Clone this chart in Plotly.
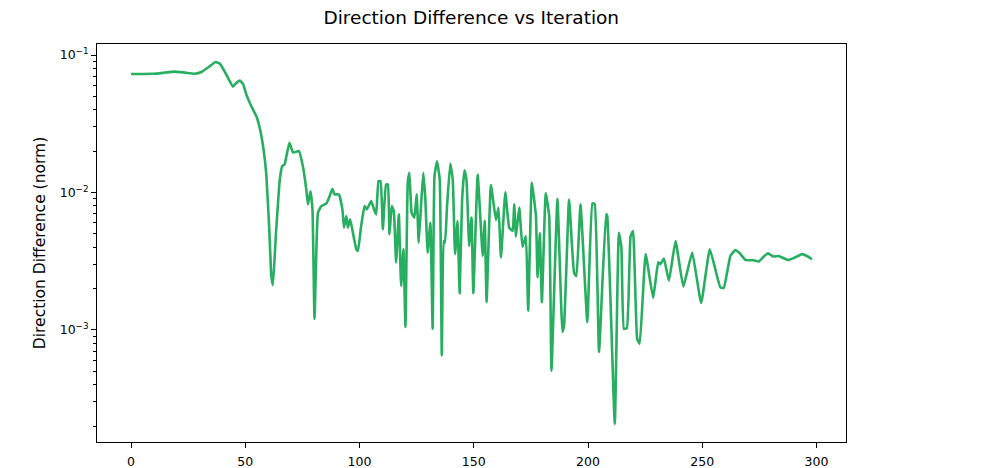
import plotly.graph_objects as go

iterations = [0, 5, 10, 15, 19, 23, 28, 31, 34, 37, 39, 42, 44.6, 46, 47.6, 49, 50.5, 52.7, 54.9,
              56.5, 58, 59.2, 60.5, 61.4, 62.1, 63.4, 65.1, 66.2, 67.2, 69.3, 70.9, 73.5, 75.2,
              76.7, 77.4, 78.5, 79.4, 80.3, 81.8, 83.3, 85.5, 86.9, 88.1, 89.1, 91.0, 92.5, 93.2,
              94.2, 94.9, 95.9, 97.1, 98.6, 99.3, 100.7, 102.2, 103.2, 105.1, 106.6, 107.3, 108.3,
              109.2, 110.2, 111.6, 112.4, 113.1, 114.1, 115.0, 116.0, 117.2, 118.2, 119.2, 120.1,
              121.1, 121.8, 122.8, 124.0, 125.0, 125.9, 126.9, 127.9, 128.8, 129.8, 131.0, 132.0,
              132.8, 133.9, 135.1, 136.0, 136.8, 137.4, 138.3, 139.7, 140.8, 141.8, 142.9, 143.8,
              144.9, 145.9, 146.8, 148.0, 149.0, 149.8, 151.7, 153.9, 154.8, 155.6, 157.5, 159.7,
              160.8, 161.9, 163.8, 165.5, 167.0, 167.7, 168.4, 169.9, 171.3, 172.8, 173.8, 175.4,
              177.2, 177.9, 178.9, 179.8, 181.5, 183.0, 184.0, 186.6, 188.8, 189.5, 191.7, 193.9,
              194.9, 196.7, 199.7, 201.9, 202.9, 204.8, 207.9, 208.4, 211.7, 213.5, 214.6, 215.7,
              217.0, 218.6, 219.7, 221.5, 222.6, 225.2, 228.5, 230.7, 231.7, 233.2, 235.4, 238.3,
              241.7, 245.6, 249.5, 253.3, 257.9, 259.4, 262.3, 264.5, 266.4, 268.9, 272.5, 274.7,
              276.9, 278.7, 281.2, 283.4, 287.5, 290.0, 293.6, 295.8, 298]

direction_diff = [0.0728, 0.0728, 0.0730, 0.0745, 0.0757, 0.0747, 0.0731, 0.0755, 0.0818, 0.0889,
                  0.0861, 0.0705, 0.0589, 0.0626, 0.0651, 0.0616, 0.0513, 0.0422, 0.0357,
                  0.0286, 0.0205, 0.0135, 0.0054, 0.00246, 0.00212, 0.00497, 0.0124, 0.0156,
                  0.0160, 0.0230, 0.0195, 0.0200, 0.0155,
                  0.0105, 0.00819, 0.0102, 0.00753, 0.00120, 0.00713, 0.00796, 0.00832, 0.00940,
                  0.01063, 0.00968, 0.00968, 0.00753, 0.00555,
                  0.00674, 0.00555, 0.00637, 0.00510, 0.00386, 0.00376, 0.00570, 0.00796, 0.00753,
                  0.00865, 0.00732, 0.00693, 0.01208,
                  0.01208, 0.00540, 0.01143, 0.01143, 0.00497, 0.00796, 0.00732, 0.00310, 0.00693,
                  0.00209, 0.00386, 0.00105,
                  0.01175, 0.0139, 0.00713, 0.00656, 0.00968, 0.00432, 0.00796, 0.0139, 0.00890,
                  0.00365, 0.00603, 0.00102,
                  0.01313, 0.01687, 0.0124, 0.000652, 0.00444, 0.00432, 0.00796, 0.01622, 0.0124,
                  0.00356, 0.00619, 0.00185,
                  0.00890, 0.01452, 0.0124, 0.00408, 0.00656, 0.00185, 0.0135, 0.00345, 0.00619,
                  0.00160, 0.01133, 0.00630,
                  0.00774, 0.00337, 0.01005, 0.00555, 0.00525, 0.00819, 0.00477, 0.00778, 0.00403,
                  0.00482, 0.00138, 0.0118,
                  0.00674, 0.00241, 0.00505, 0.00159, 0.00991, 0.00674, 0.000505, 0.00898, 0.000969,
                  0.00107, 0.00890, 0.00259,
                  0.00247, 0.00819, 0.00114, 0.00832, 0.00826, 0.000693, 0.00698, 0.00675, 0.000207,
                  0.00509, 0.00399, 0.00102,
                  0.00103, 0.00477, 0.00525, 0.000861, 0.000792, 0.00356, 0.00171, 0.00310, 0.00301,
                  0.00331, 0.00228, 0.00444,
                  0.00207, 0.00365, 0.00157, 0.00386, 0.00204, 0.00202, 0.00345, 0.00382, 0.00361,
                  0.00323, 0.00321, 0.00315,
                  0.00342, 0.00361, 0.00342, 0.00345, 0.00323, 0.00333, 0.00356, 0.00345, 0.00327]

x_tick_vals = [0, 50, 100, 150, 200, 250, 300]
y_tick_vals = [1e-1, 1e-2, 1e-3]
y_tick_text = ["10<sup>−1</sup>", "10<sup>−2</sup>", "10<sup>−3</sup>"]
y_minor_vals = [m * 10 ** e for e in (-4, -3, -2) for m in range(2, 10)]

fig = go.Figure()
fig.add_trace(go.Scatter(
    x=iterations, y=direction_diff, mode="lines",
    line=dict(color="#27ae60", width=2.6, shape="spline", smoothing=0.35),
    showlegend=False, hoverinfo="x+y",
))

axis_common = dict(
    showgrid=False, zeroline=False, showline=True, linecolor="black", linewidth=1,
    mirror=True, ticks="outside", ticklen=5, tickwidth=1, tickcolor="black",
    tickfont=dict(family="DejaVu Sans", size=12.5, color="black"), automargin=False,
)

fig.update_layout(
    width=988, height=468,
    margin=dict(l=97, r=142, t=44, b=26),
    paper_bgcolor="white", plot_bgcolor="white",
    title=dict(text="Direction Difference vs Iteration", x=0.477, xanchor="center",
               y=0.962, yanchor="middle",
               font=dict(family="DejaVu Sans", size=18.5, color="black")),
    xaxis=dict(range=[-14.9, 312.9], tickvals=x_tick_vals, ticklabelstandoff=3, **axis_common),
    yaxis=dict(type="log", range=[-3.815, -0.92], tickvals=y_tick_vals, ticktext=y_tick_text,
               title=dict(text="Direction Difference (norm)", standoff=10,
                          font=dict(family="DejaVu Sans", size=15.5, color="black")),
               minor=dict(tickvals=y_minor_vals, ticks="outside", ticklen=3, tickwidth=0.8,
                          tickcolor="black", showgrid=False),
               **axis_common),
)

fig.write_html("out.html")
